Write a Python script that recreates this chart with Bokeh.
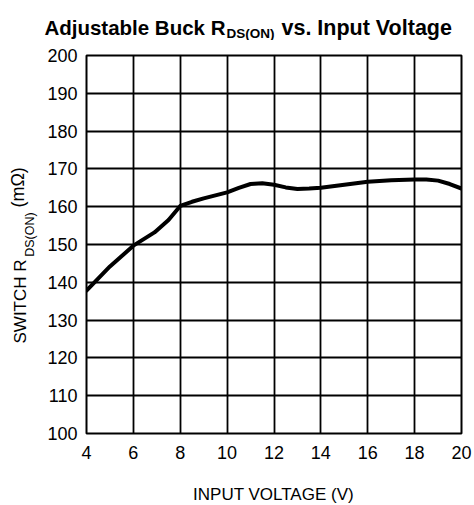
import math
from bokeh.plotting import figure
from bokeh.models import FixedTicker, Range1d
from bokeh.layouts import column, row
from bokeh.core.properties import value
from bokeh.embed import file_html
from bokeh.resources import INLINE

# data
voltage = [4, 5, 6, 6.9, 7.5, 8, 8.5, 9, 10, 10.5, 11, 11.5, 12, 12.5, 13, 13.5, 14, 15, 16, 17, 18, 18.5, 19, 19.5, 20]
rdson = [137.8, 144.2, 149.7, 153.2, 156.5, 160.2, 161.3, 162.2, 163.8, 165.0, 166.0, 166.2, 165.8, 165.1, 164.7, 164.8, 165.0, 165.8, 166.6, 167.0, 167.2, 167.2, 166.9, 166.0, 164.8]
x_ticks = [4, 6, 8, 10, 12, 14, 16, 18, 20]
y_ticks = [100, 110, 120, 130, 140, 150, 160, 170, 180, 190, 200]
title_parts = ["Adjustable Buck R", "DS(ON)", "vs. Input Voltage"]
ylabel_parts = ["SWITCH R", "DS(ON)", "(mΩ)"]
xlabel = "INPUT VOLTAGE (V)"

W, H = 472, 503
TOP_H = 40        # title strip height
LEFT_W = 40       # y-label strip width
BOT_H = 33        # x-label strip height
FL, FR, FT, FB = 86, 461, 55, 433  # frame edges in page pixels
FONT = "Liberation Sans"


def strip(x0, y0, w, h):
    """Blank figure whose data coords equal page pixels (y downwards)."""
    f = figure(width=w, height=h, output_backend="svg", toolbar_location=None,
               x_range=Range1d(x0, x0 + w), y_range=Range1d(y0 + h, y0),
               min_border=0, min_border_left=0, min_border_right=0,
               min_border_top=0, min_border_bottom=0)
    f.axis.visible = False
    f.grid.visible = False
    f.outline_line_color = None
    f.background_fill_color = "white"
    f.border_fill_color = "white"
    return f


def txt(f, x, y, t, size, bold=False, align="left", angle=0.0):
    f.text(x=[x], y=[y], text=[t], text_font=value(FONT), text_font_size=value(size),
           text_font_style="bold" if bold else "normal", text_align=align,
           text_baseline="alphabetic", angle=angle, text_color="black")


# title strip
top = strip(0, 0, W, TOP_H)
txt(top, 225, 27, title_parts[0], "20.5px", bold=True, align="right")
txt(top, 226, 33, title_parts[1], "13.5px", bold=True, align="left")
txt(top, 281, 27, title_parts[2], "21.5px", bold=True, align="left")

# y-label strip
left = strip(0, TOP_H, LEFT_W, H - TOP_H - BOT_H)
txt(left, 20, 272, ylabel_parts[0], "17px", align="right", angle=math.pi / 2)
txt(left, 29, 269, ylabel_parts[1], "12.5px", align="left", angle=math.pi / 2)
txt(left, 17, 213, ylabel_parts[2], "18px", align="left", angle=math.pi / 2)

# main plot
MW = W - LEFT_W
MH = H - TOP_H - BOT_H
p = figure(width=MW, height=MH, output_backend="svg", toolbar_location=None,
           x_range=Range1d(4, 20), y_range=Range1d(100, 200),
           min_border_left=FL - LEFT_W, min_border_right=W - FR,
           min_border_top=FT - TOP_H, min_border_bottom=(H - BOT_H) - FB)
p.background_fill_color = "white"
p.border_fill_color = "white"
p.outline_line_color = "black"
p.outline_line_width = 2

for ax in (p.xaxis[0], p.yaxis[0]):
    ax.axis_line_color = None
    ax.major_tick_line_color = None
    ax.minor_tick_line_color = None
    ax.major_tick_out = 0
    ax.major_tick_in = 0
    ax.major_label_text_font = FONT
    ax.major_label_text_font_size = "18px"
    ax.major_label_text_color = "black"

p.xaxis[0].ticker = FixedTicker(ticks=x_ticks)
p.yaxis[0].ticker = FixedTicker(ticks=y_ticks)
p.xaxis[0].major_label_standoff = 12
p.yaxis[0].major_label_standoff = 9

p.xgrid[0].ticker = FixedTicker(ticks=x_ticks)
p.ygrid[0].ticker = FixedTicker(ticks=y_ticks)
for g in (p.xgrid[0], p.ygrid[0]):
    g.grid_line_color = "black"
    g.grid_line_width = 1.8
    g.grid_line_alpha = 1.0

p.line(voltage, rdson, line_color="black", line_width=4, line_join="round", line_cap="round")

# x-label strip
bot = strip(0, H - BOT_H, W, BOT_H)
txt(bot, 273, 494, xlabel, "17px", align="center")

layout = column(top, row(left, p, spacing=0), bot, spacing=0)
open("out.html", "w").write(file_html(layout, INLINE))
